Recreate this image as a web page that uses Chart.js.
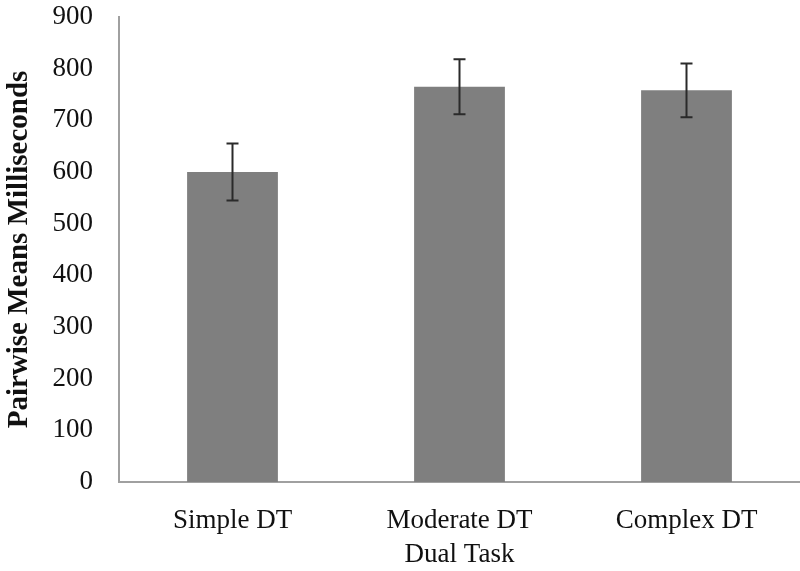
<!DOCTYPE html>
<html>
<head>
<meta charset="utf-8">
<script src="https://cdn.jsdelivr.net/npm/chart.js@4.4.0/dist/chart.umd.min.js"></script>
<style>
    html, body { margin: 0; padding: 0; background: #fff; }
    #wrap { width: 800px; height: 571px; position: relative; }
</style>
</head>
<body>
<div id="wrap"><canvas id="chart"></canvas></div>
<script>
// Chart data
const categories = ['Simple DT', 'Moderate DT', 'Complex DT'];
const meanValues = [600, 765, 758];
const errorValues = [55, 53, 52];
const yTicks = [0, 100, 200, 300, 400, 500, 600, 700, 800, 900];

document.addEventListener('DOMContentLoaded', function() {
    const serif = '"Liberation Serif", "Times New Roman", serif';

    // Draws the error bars on top of the bars
    const errorBars = {
        id: 'errorBars',
        afterDatasetsDraw(chart) {
            const ctx = chart.ctx;
            const meta = chart.getDatasetMeta(0);
            const yScale = chart.scales.y;
            ctx.save();
            ctx.strokeStyle = '#2a2a2a';
            ctx.lineWidth = 2;
            meta.data.forEach((bar, i) => {
                const x = bar.x;
                const top = yScale.getPixelForValue(meanValues[i] + errorValues[i]);
                const bottom = yScale.getPixelForValue(meanValues[i] - errorValues[i]);
                ctx.beginPath();
                ctx.moveTo(x, top);
                ctx.lineTo(x, bottom);
                ctx.moveTo(x - 6, top);
                ctx.lineTo(x + 6, top);
                ctx.moveTo(x - 6, bottom);
                ctx.lineTo(x + 6, bottom);
                ctx.stroke();
            });
            ctx.restore();
        }
    };

    new Chart(document.getElementById('chart'), {
        type: 'bar',
        data: {
            labels: categories,
            datasets: [{
                data: meanValues,
                backgroundColor: '#7f7f7f',
                borderWidth: 0,
                barPercentage: 0.4,
                categoryPercentage: 1.0
            }]
        },
        options: {
            responsive: true,
            maintainAspectRatio: false,
            animation: false,
            layout: { padding: { top: 17, right: 0, left: 0, bottom: 0 } },
            plugins: {
                legend: { display: false },
                tooltip: { enabled: false }
            },
            scales: {
                x: {
                    grid: { display: false },
                    border: { display: true, color: '#a0a0a0', width: 2 },
                    ticks: {
                        color: '#111',
                        font: { family: serif, size: 27 },
                        padding: 15,
                        maxRotation: 0
                    },
                    title: {
                        display: true,
                        text: 'Dual Task',
                        color: '#111',
                        font: { family: serif, size: 27 },
                        padding: { top: 0, bottom: 0 }
                    },
                    afterFit: function(scale) {
                        scale.height = 89;
                        scale.paddingLeft = 0;
                        scale.paddingRight = 0;
                    }
                },
                y: {
                    min: 0,
                    max: 900,
                    grid: { display: false },
                    border: { display: true, color: '#a0a0a0', width: 2 },
                    afterBuildTicks: function(scale) {
                        scale.ticks = yTicks.map(v => ({ value: v }));
                    },
                    ticks: {
                        color: '#111',
                        font: { family: serif, size: 27 },
                        padding: 18
                    },
                    title: {
                        display: true,
                        text: 'Pairwise Means Milliseconds',
                        color: '#111',
                        font: { family: serif, size: 29, weight: 'bold' },
                        padding: { top: 2, bottom: 0 }
                    },
                    afterFit: function(scale) {
                        scale.width = 119;
                        scale.paddingTop = 0;
                        scale.paddingBottom = 0;
                    }
                }
            }
        },
        plugins: [errorBars]
    });
});
</script>
</body>
</html>
